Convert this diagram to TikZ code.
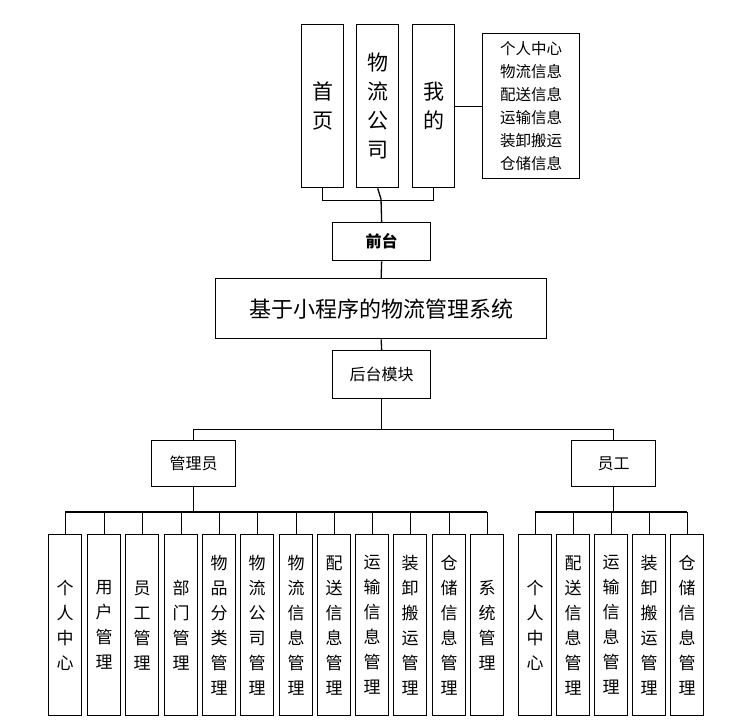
\documentclass[tikz,border=0pt]{standalone}
\usepackage{fontspec}
\setmainfont{Noto Sans CJK SC}
\begin{document}
\begin{tikzpicture}[x=1pt,y=-1pt,line width=1.3pt,
  bx/.style={draw,inner sep=0pt,anchor=north west},
  vb/.style={bx,minimum width=33pt,minimum height=181pt,align=center,font=\fontsize{17}{25}\selectfont},
  tb/.style={bx,minimum width=42pt,minimum height=163pt,align=center,font=\fontsize{21}{29}\selectfont}]
\useasboundingbox (0,0) rectangle (740,728);
% top
\node[tb] (a) at (301,24) {首\\页};
\node[tb] (b) at (356,24) {物\\流\\公\\司};
\node[tb] (c) at (412,24) {我\\的};
\node[bx,minimum width=97pt,minimum height=145pt,align=center,font=\fontsize{15.5}{23}\selectfont] (s) at (482,33) {个人中心\\物流信息\\配送信息\\运输信息\\装卸搬运\\仓储信息};
\node[bx,minimum width=98pt,minimum height=38pt,font=\fontsize{16}{20}\selectfont\bfseries] (q) at (332,222) {前台};
\node[bx,minimum width=331pt,minimum height=60pt,font=\fontsize{22}{26}\selectfont] (m) at (215,278) {基于小程序的物流管理系统};
\node[bx,minimum width=98pt,minimum height=48pt,font=\fontsize{16}{20}\selectfont] (h) at (332,350) {后台模块};
\node[bx,minimum width=84pt,minimum height=46pt,font=\fontsize{16}{20}\selectfont] (g) at (151,440) {管理员};
\node[bx,minimum width=84pt,minimum height=46pt,font=\fontsize{16}{20}\selectfont] (y) at (571,440) {员工};
\coordinate (tj) at (381,199);
\draw (a.south) -- ++(0,12) -| (c.south);
\draw (b.south) -- (tj) -- (q.north);
\draw (c.east) -- (s.west |- c.east);
\draw (q.south) -- (m.north);
\draw (m.south) -- (h.north);
\draw (h.south) -- ++(0,30) coordinate (hj);
\draw (g.north) |- (hj) -| (y.north);
% bottom left
\foreach \n/\x/\t in {l1/48/{个\\人\\中\\心},l2/87/{用\\户\\管\\理},l3/125/{员\\工\\管\\理},l4/164/{部\\门\\管\\理},l5/202/{物\\品\\分\\类\\管\\理},l6/240/{物\\流\\公\\司\\管\\理},l7/279/{物\\流\\信\\息\\管\\理},l8/317/{配\\送\\信\\息\\管\\理},l9/355/{运\\输\\信\\息\\管\\理},l10/393/{装\\卸\\搬\\运\\管\\理},l11/432/{仓\\储\\信\\息\\管\\理},l12/470/{系\\统\\管\\理}}{
  \node[vb] (\n) at (\x,534) {\t};
  \draw (\n.north) -- ++(0,-22);
}
\draw (l1.north) ++(0,-22) -- ([yshift=22pt]l12.north);
\draw (g.south) -- (g.south |- 0,512);
\foreach \n/\x/\t in {r1/518/{个\\人\\中\\心},r2/556/{配\\送\\信\\息\\管\\理},r3/594/{运\\输\\信\\息\\管\\理},r4/632/{装\\卸\\搬\\运\\管\\理},r5/670/{仓\\储\\信\\息\\管\\理}}{
  \node[vb] (\n) at (\x,534) {\t};
  \draw (\n.north) -- ++(0,-22);
}
\draw (r1.north) ++(0,-22) -- ([yshift=22pt]r5.north);
\draw (y.south) -- (y.south |- 0,512);
\end{tikzpicture}
\end{document}
